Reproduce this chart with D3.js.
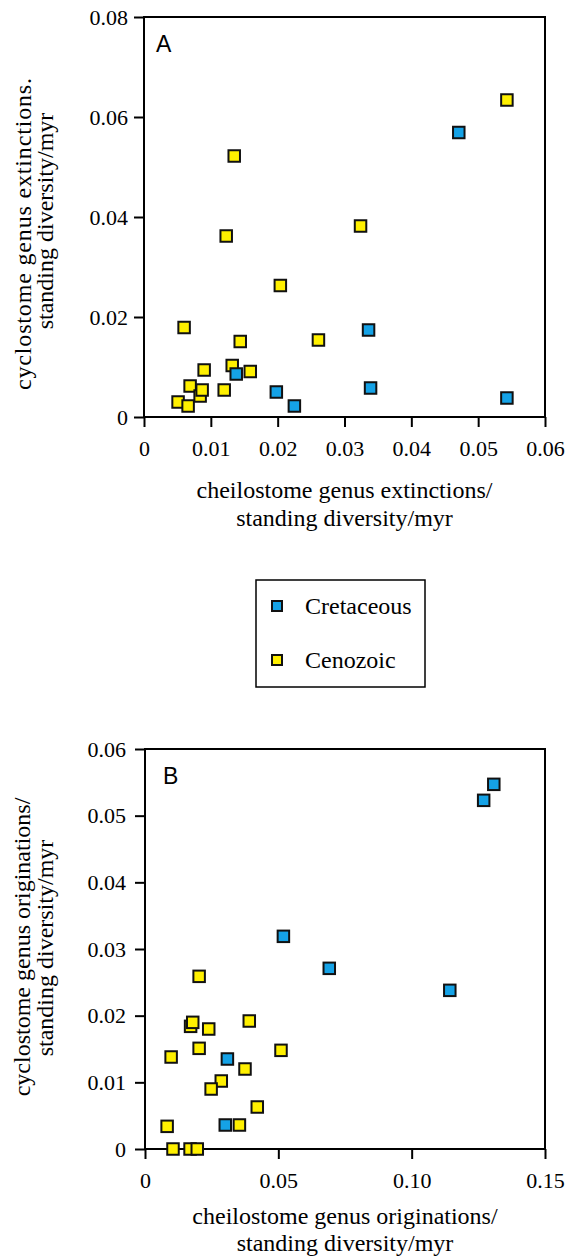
<!DOCTYPE html>
<html>
<head>
<meta charset="utf-8">
<script src="https://cdn.jsdelivr.net/npm/d3@7"></script>
<style>
  html, body { margin: 0; padding: 0; background: #fff; }
  svg { display: block; }
</style>
</head>
<body>
<script>
// ---------- DATA ----------
const seriesNames = ["Cretaceous", "Cenozoic"];
const seriesColors = ["#15a2e6", "#fff000"];

// Panel A: extinctions
const aCretX = [0.0471, 0.0336, 0.0138, 0.0198, 0.0339, 0.0225, 0.0543];
const aCretY = [0.0569, 0.0174, 0.0086, 0.0050, 0.0058, 0.0022, 0.0038];
const aCenoX = [0.0543, 0.0135, 0.0123, 0.0324, 0.0204, 0.0060, 0.0144, 0.0261, 0.0090, 0.0132, 0.0159, 0.0069, 0.0084, 0.0087, 0.0120, 0.0051, 0.0066];
const aCenoY = [0.0634, 0.0522, 0.0362, 0.0382, 0.0263, 0.0179, 0.0151, 0.0154, 0.0094, 0.0103, 0.0091, 0.0062, 0.0042, 0.0054, 0.0054, 0.0030, 0.0022];

// Panel B: originations
const bCretX = [0.1308, 0.1270, 0.0519, 0.0691, 0.1143, 0.0309, 0.0301];
const bCretY = [0.0547, 0.0523, 0.0319, 0.0271, 0.0238, 0.0135, 0.0036];
const bCenoX = [0.0203, 0.0171, 0.0179, 0.0239, 0.0391, 0.0203, 0.0098, 0.0510, 0.0375, 0.0286, 0.0248, 0.0421, 0.0083, 0.0354, 0.0105, 0.0169, 0.0196];
const bCenoY = [0.0259, 0.0184, 0.0190, 0.0180, 0.0192, 0.0151, 0.0138, 0.0148, 0.0120, 0.0102, 0.0090, 0.0063, 0.0034, 0.0036, 0.0000, 0.0000, 0.0000];

// Tick labels
const aXTicks = [0, 0.01, 0.02, 0.03, 0.04, 0.05, 0.06];
const aXTickLabels = ["0", "0.01", "0.02", "0.03", "0.04", "0.05", "0.06"];
const aYTicks = [0, 0.02, 0.04, 0.06, 0.08];
const aYTickLabels = ["0", "0.02", "0.04", "0.06", "0.08"];
const bXTicks = [0, 0.05, 0.10, 0.15];
const bXTickLabels = ["0", "0.05", "0.10", "0.15"];
const bYTicks = [0, 0.01, 0.02, 0.03, 0.04, 0.05, 0.06];
const bYTickLabels = ["0", "0.01", "0.02", "0.03", "0.04", "0.05", "0.06"];

const aXTitle = ["cheilostome genus extinctions/", "standing diversity/myr"];
const aYTitle = ["cyclostome genus extinctions.", "standing diversity/myr"];
const bXTitle = ["cheilostome genus originations/", "standing diversity/myr"];
const bYTitle = ["cyclostome genus originations/", "standing diversity/myr"];

// ---------- DRAW ----------
const SERIF = "'Liberation Serif', 'Times New Roman', Times, serif";
const SANS = "'Liberation Sans', Arial, sans-serif";
const W = 569, H = 1256;
const svg = d3.select("body").append("svg").attr("width", W).attr("height", H);

function zip(xs, ys) { return xs.map((x, i) => ({ x, y: ys[i] })); }
function serif(sel, size) {
  return sel.style("font-family", SERIF).style("font-size", size + "px").attr("fill", "#000");
}

function panel(opts) {
  const { x, y, xTicks, xLabels, yTicks, yLabels, cret, ceno, letter, letterPos,
          xTitle, xTitleY, yTitle, yTitleX, yTitleC, yTitleLen, yPad } = opts;
  const g = svg.append("g");
  const [x0, x1] = x.range();
  const [y0, y1] = y.range();

  g.append("rect")
    .attr("x", x0).attr("y", y1).attr("width", x1 - x0).attr("height", y0 - y1)
    .attr("fill", "none").attr("stroke", "#000").attr("stroke-width", 2);

  const xAxis = d3.axisBottom(x).tickValues(xTicks).tickSize(10).tickSizeOuter(0)
    .tickPadding(13).tickFormat((d, i) => xLabels[i]);
  const gx = g.append("g").attr("transform", `translate(0,${y0})`).call(xAxis);
  gx.select(".domain").remove();
  gx.selectAll(".tick line").attr("stroke", "#000").attr("stroke-width", 2);
  serif(gx.selectAll(".tick text"), 22);

  const yAxis = d3.axisLeft(y).tickValues(yTicks).tickSize(10).tickSizeOuter(0)
    .tickPadding(yPad).tickFormat((d, i) => yLabels[i]);
  const gy = g.append("g").attr("transform", `translate(${x0},0)`).call(yAxis);
  gy.select(".domain").remove();
  gy.selectAll(".tick line").attr("stroke", "#000").attr("stroke-width", 2);
  serif(gy.selectAll(".tick text"), 22);

  const s = 11.5;
  const layers = [
    { data: ceno, color: seriesColors[1] },
    { data: cret, color: seriesColors[0] }
  ];
  layers.forEach(L => {
    g.append("g").selectAll("rect").data(L.data).join("rect")
      .attr("x", d => x(d.x) - s / 2).attr("y", d => y(d.y) - s / 2)
      .attr("width", s).attr("height", s)
      .attr("fill", L.color).attr("stroke", "#111").attr("stroke-width", 2);
  });

  g.append("text").attr("x", letterPos[0]).attr("y", letterPos[1])
    .style("font-family", SANS).style("font-size", "23px").attr("fill", "#000").text(letter);

  const xc = (x0 + x1) / 2;
  xTitle.forEach((t, i) => {
    serif(g.append("text"), 24).attr("text-anchor", "middle")
      .attr("x", xc).attr("y", xTitleY[i]).text(t);
  });
  yTitle.forEach((t, i) => {
    const tx = serif(g.append("text"), 24).attr("text-anchor", "middle")
      .attr("transform", `translate(${yTitleX[i]},${yTitleC[i]}) rotate(-90)`).text(t);
    if (yTitleLen && yTitleLen[i]) tx.attr("textLength", yTitleLen[i]).attr("lengthAdjust", "spacing");
  });
}

panel({
  x: d3.scaleLinear().domain([0, 0.06]).range([144, 545]),
  y: d3.scaleLinear().domain([0, 0.08]).range([417, 17]),
  xTicks: aXTicks, xLabels: aXTickLabels, yTicks: aYTicks, yLabels: aYTickLabels,
  cret: zip(aCretX, aCretY), ceno: zip(aCenoX, aCenoY),
  letter: "A", letterPos: [156, 52],
  xTitle: aXTitle, xTitleY: [498, 526],
  yTitle: aYTitle, yTitleX: [31, 53], yTitleC: [234, 221], yTitleLen: [312, 0], yPad: 6
});

panel({
  x: d3.scaleLinear().domain([0, 0.15]).range([145, 545]),
  y: d3.scaleLinear().domain([0, 0.06]).range([1149, 749]),
  xTicks: bXTicks, xLabels: bXTickLabels, yTicks: bYTicks, yLabels: bYTickLabels,
  cret: zip(bCretX, bCretY), ceno: zip(bCenoX, bCenoY),
  letter: "B", letterPos: [163, 784],
  xTitle: bXTitle, xTitleY: [1224, 1251],
  yTitle: bYTitle, yTitleX: [30, 53], yTitleC: [947, 948], yTitleLen: [0, 0], yPad: 9
});

const lg = svg.append("g");
lg.append("rect").attr("x", 256).attr("y", 580).attr("width", 169).attr("height", 107)
  .attr("fill", "#fff").attr("stroke", "#000").attr("stroke-width", 1.5);
const legY = d3.scalePoint().domain(seriesNames).range([606, 660]);
seriesNames.forEach((n, i) => {
  lg.append("rect").attr("x", 277 - 5).attr("y", legY(n) - 5).attr("width", 10).attr("height", 10)
    .attr("fill", seriesColors[i]).attr("stroke", "#111").attr("stroke-width", 2);
  serif(lg.append("text"), 24).attr("x", 305).attr("y", legY(n) + 8).text(n);
});
</script>
</body>
</html>
